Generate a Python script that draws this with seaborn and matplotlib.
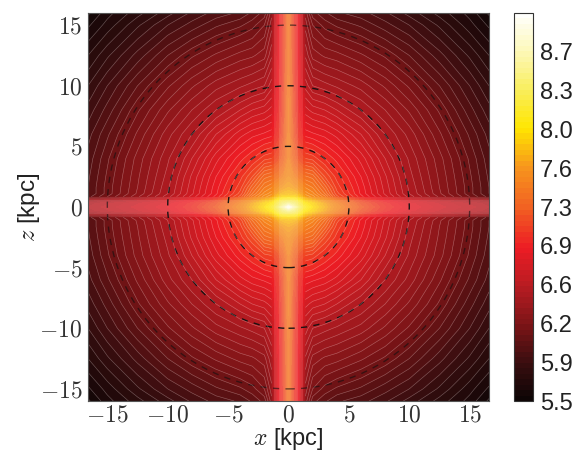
import numpy as np
import matplotlib
matplotlib.use("Agg")
import matplotlib.pyplot as plt
from matplotlib.colors import LinearSegmentedColormap
from matplotlib.patches import Circle
import seaborn as sns

# Node positions (kpc) in one quadrant; the field is mirrored across both axes
x_nodes = [0, .4, .8, 1.1, 1.4, 2, 3, 4, 6, 8, 10, 12.5, 15, 16.6]
z_nodes = [0, .3, .6, .85, 1.1, 1.6, 2.5, 4, 6, 8, 10, 12.5, 15, 16]

# log-density read by colour from the picture: one list per x node, running over z_nodes
col_x00 = [8.95, 8.45, 8.12, 7.92, 7.8, 7.7, 7.6, 7.5, 7.48, 7.46, 7.44, 7.42, 7.4, 7.4]
col_x04 = [8.6, 8.35, 8.1, 7.9, 7.78, 7.66, 7.5, 7.3, 7.2, 7.15, 7.12, 7.1, 7.08, 7.08]
col_x08 = [8.35, 8.22, 8.02, 7.85, 7.72, 7.6, 7.42, 7.18, 7.02, 6.96, 6.92, 6.88, 6.85, 6.85]
col_x11 = [8.2, 8.08, 7.92, 7.75, 7.65, 7.55, 7.38, 7.12, 6.95, 6.85, 6.78, 6.72, 6.66, 6.65]
col_x14 = [8.1, 8.0, 7.82, 7.65, 7.58, 7.5, 7.36, 7.1, 6.88, 6.72, 6.58, 6.44, 6.33, 6.28]
col_x20 = [7.95, 7.9, 7.72, 7.58, 7.52, 7.45, 7.33, 7.08, 6.86, 6.68, 6.5, 6.33, 6.2, 6.12]
col_x30 = [7.75, 7.7, 7.58, 7.42, 7.35, 7.28, 7.15, 7.0, 6.83, 6.65, 6.47, 6.29, 6.13, 6.06]
col_x40 = [7.55, 7.5, 7.38, 7.17, 7.12, 7.08, 7.03, 6.93, 6.78, 6.6, 6.44, 6.27, 6.09, 6.01]
col_x60 = [7.22, 7.18, 7.06, 6.92, 6.89, 6.88, 6.85, 6.78, 6.65, 6.5, 6.38, 6.21, 6.04, 5.97]
col_x80 = [7.0, 6.97, 6.86, 6.72, 6.69, 6.68, 6.66, 6.6, 6.5, 6.4, 6.29, 6.14, 5.97, 5.91]
col_x100 = [6.85, 6.82, 6.7, 6.53, 6.5, 6.49, 6.47, 6.44, 6.38, 6.29, 6.19, 6.05, 5.9, 5.83]
col_x125 = [6.72, 6.69, 6.55, 6.34, 6.31, 6.3, 6.29, 6.27, 6.21, 6.14, 6.05, 5.92, 5.79, 5.73]
col_x150 = [6.62, 6.59, 6.45, 6.15, 6.12, 6.12, 6.11, 6.09, 6.04, 5.97, 5.9, 5.79, 5.67, 5.63]
col_x166 = [6.55, 6.52, 6.38, 6.03, 6.0, 6.0, 5.99, 5.97, 5.93, 5.87, 5.8, 5.7, 5.59, 5.54]

ring_radii = [5, 10, 15]
axis_ticks = [-15, -10, -5, 0, 5, 10, 15]
cbar_ticks = [5.5, 5.855, 6.21, 6.565, 6.92, 7.275, 7.63, 7.985, 8.34, 8.695]
cbar_labels = ["5.5", "5.9", "6.2", "6.6", "6.9", "7.3", "7.6", "8.0", "8.3", "8.7"]

sns.set_theme(style="ticks")
plt.rcParams["font.family"] = ["Liberation Sans", "DejaVu Sans"]
plt.rcParams["mathtext.fontset"] = "cm"

quad = np.array([col_x00, col_x04, col_x08, col_x11, col_x14, col_x20, col_x30,
                 col_x40, col_x60, col_x80, col_x100, col_x125, col_x150, col_x166]).T
field = np.hstack([quad[:, :0:-1], quad])
field = np.vstack([field[:0:-1], field])
xa = np.array(x_nodes)
za = np.array(z_nodes)
x_full = np.concatenate([-xa[:0:-1], xa])
z_full = np.concatenate([-za[:0:-1], za])
XX, ZZ = np.meshgrid(x_full, z_full)
# The two bright bands of the reference carry no visible contour lines
lined = np.ma.masked_where((np.abs(XX) < 1.2) | (np.abs(ZZ) < 0.7), field)

vmin, vmax = 5.5, 9.05
stops = [(5.5, "#0c0505"), (5.85, "#3a0e0f"), (6.2, "#7d1417"), (6.55, "#b81c22"),
         (6.9, "#ed1c24"), (7.3, "#f26522"), (7.63, "#f7941d"), (8.0, "#ffe600"),
         (8.35, "#f9ee5c"), (8.7, "#fdf8b8"), (9.05, "#ffffff")]
cmap = LinearSegmentedColormap.from_list(
    "halo", [((v - vmin) / (vmax - vmin), c) for v, c in stops])
levels = np.linspace(vmin, vmax, 72)

fig = plt.figure(figsize=(5.82, 4.51), dpi=100)
ax = fig.add_axes([88 / 582, 1 - 401 / 451, 401 / 582, 388 / 451])
cax = fig.add_axes([514 / 582, 1 - 401 / 451, 19 / 582, 388 / 451])

cf = ax.contourf(x_full, z_full, field, levels=levels, cmap=cmap,
                 vmin=vmin, vmax=vmax, antialiased=False)
# Pale veil of the two bands: a wide soft one and a narrower inner one
ax.axhspan(-0.85, 0.85, color="white", alpha=0.1, lw=0)
ax.axvspan(-1.2, 1.2, color="white", alpha=0.1, lw=0)
ax.axhspan(-0.55, 0.55, color="white", alpha=0.1, lw=0)
ax.axvspan(-0.75, 0.75, color="white", alpha=0.1, lw=0)
ax.contour(x_full, z_full, lined, levels=levels, colors="white",
           linewidths=0.45, alpha=0.3)
for r in ring_radii:
    ax.add_patch(Circle((0, 0), r, fill=False, ec="#111111", lw=1.0,
                        ls=(0, (4.5, 4.5)), alpha=0.95 if r < 15 else 0.6))

ax.set_xlim(-16.6, 16.6)
ax.set_ylim(-16, 16)
ax.set_xticks(axis_ticks)
ax.set_yticks(axis_ticks)
ax.set_xticklabels([f"${t}$" for t in axis_ticks], fontsize=17, color="#333333")
ax.set_yticklabels([f"${t}$" for t in axis_ticks], fontsize=17, color="#333333")
ax.tick_params(direction="in", length=3, width=0.7, top=True, right=True,
               color="#333333", pad=4)
ax.tick_params(axis="x", pad=2.5)
ax.set_xlabel("$x$ [kpc]", fontsize=17, color="#222222", labelpad=0)
ax.set_ylabel("$z$ [kpc]", fontsize=17.5, color="#222222", labelpad=-2)
for s in ax.spines.values():
    s.set_color("#555555")
    s.set_linewidth(0.8)

cb = fig.colorbar(cf, cax=cax)
cax.set_ylim(vmin, vmax)
cb.set_ticks(cbar_ticks)
cb.set_ticklabels(cbar_labels)
cax.tick_params(direction="in", length=3, width=0.7, labelsize=17,
                labelcolor="#222222", color="#333333", pad=5)
cb.outline.set_edgecolor("#333333")
cb.outline.set_linewidth(0.8)

fig.savefig("out.png", dpi=100)
